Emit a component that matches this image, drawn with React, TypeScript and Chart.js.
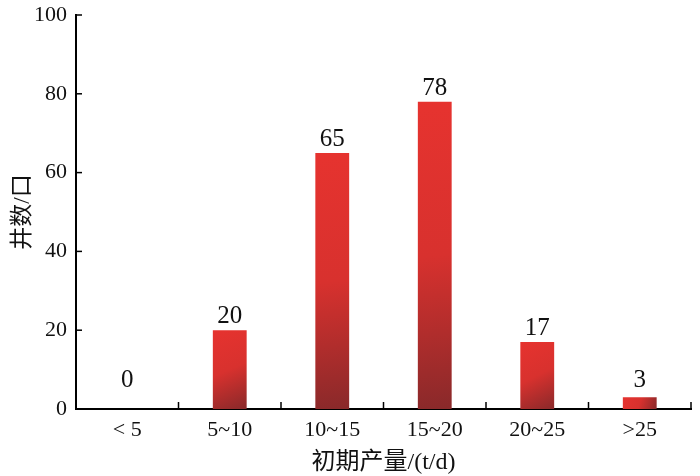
import React, { useEffect, useRef } from "react";
import { Chart, registerables } from "chart.js";

Chart.register(...registerables);

const categories = ["< 5", "5~10", "10~15", "15~20", "20~25", ">25"];
const wellCounts = [0, 20, 65, 78, 17, 3];
const yTicks = [0, 20, 40, 60, 80, 100];
const xTitle = "初期产量/(t/d)";
const yTitle = "井数/口";

const FONT = '"Liberation Serif", "Times New Roman", "Noto Sans CJK SC", serif';

export default function App() {
  const ref = useRef<HTMLCanvasElement | null>(null);

  useEffect(() => {
    document.body.style.margin = "0";
    const canvas = ref.current;
    if (!canvas) return;

    const gradientFor = (ctx: any) => {
      const chart = ctx.chart;
      const xs = chart.scales?.x;
      const ys = chart.scales?.y;
      if (!xs || !ys || ctx.dataIndex === undefined) return "#d8312d";
      const i = ctx.dataIndex;
      const v = wellCounts[i];
      const cx = xs.getPixelForValue(i);
      const half = ((xs.width / categories.length) * 0.33) / 2;
      const top = ys.getPixelForValue(v);
      const bottom = ys.getPixelForValue(0);
      const vals = [cx, half, top, bottom];
      if (!vals.every((n) => Number.isFinite(n)) || half <= 0) return "#d8312d";
      const g = chart.ctx.createLinearGradient(cx - half, top, cx + half, bottom);
      g.addColorStop(0, "#e6332f");
      g.addColorStop(0.5, "#d8312e");
      g.addColorStop(1, "#89292a");
      return g;
    };

    const tickPlugin = {
      id: "innerTicks",
      afterDraw(chart: any) {
        const c = chart.ctx;
        const xs = chart.scales.x;
        const ys = chart.scales.y;
        c.save();
        c.strokeStyle = "#000";
        c.lineWidth = 1.5;
        const ax = xs.left;
        yTicks.forEach((t) => {
          const py = ys.getPixelForValue(t);
          c.beginPath();
          c.moveTo(ax, py);
          c.lineTo(ax + 6, py);
          c.stroke();
        });
        const base = ys.getPixelForValue(0);
        const cw = xs.width / categories.length;
        categories.forEach((_, i) => {
          const px = xs.getPixelForValue(i) + cw / 2;
          c.beginPath();
          c.moveTo(px, base);
          c.lineTo(px, base - 7);
          c.stroke();
        });
        c.restore();
      },
    };

    const labelPlugin = {
      id: "valueLabels",
      afterDatasetsDraw(chart: any) {
        const c = chart.ctx;
        const meta = chart.getDatasetMeta(0);
        c.save();
        c.fillStyle = "#111";
        c.font = `25px ${FONT}`;
        c.textAlign = "center";
        c.textBaseline = "alphabetic";
        meta.data.forEach((el: any, i: number) => {
          const y = Math.min(el.y - 7, el.base - 22);
          c.fillText(String(wellCounts[i]), el.x, y);
        });
        c.restore();
      },
    };

    const chart = new Chart(canvas, {
      type: "bar",
      data: {
        labels: categories,
        datasets: [
          {
            data: wellCounts,
            backgroundColor: gradientFor,
            borderWidth: 0,
            barPercentage: 1,
            categoryPercentage: 0.33,
          },
        ],
      },
      options: {
        animation: false,
        responsive: false,
        devicePixelRatio: 1,
        layout: { padding: { left: 0, right: 9, top: 15, bottom: 0 } },
        plugins: {
          legend: { display: false },
          tooltip: { enabled: false },
        },
        scales: {
          x: {
            grid: { display: false, drawTicks: false },
            border: { display: true, color: "#000", width: 2 },
            ticks: {
              color: "#111",
              font: { family: FONT, size: 22 },
              padding: 8,
              maxRotation: 0,
              autoSkip: false,
            },
            title: {
              display: true,
              text: xTitle,
              color: "#111",
              font: { family: FONT, size: 24 },
              padding: { top: 0, bottom: -1 },
            },
            afterFit(scale: any) {
              scale.height = 67;
              scale.paddingLeft = 0;
              scale.paddingRight = 0;
            },
          },
          y: {
            min: 0,
            max: 100,
            grid: { display: false, drawTicks: false },
            border: { display: true, color: "#000", width: 2 },
            ticks: {
              stepSize: 20,
              color: "#111",
              font: { family: FONT, size: 22 },
              padding: 9,
            },
            title: {
              display: true,
              text: yTitle,
              color: "#111",
              font: { family: FONT, size: 23 },
              padding: { top: 9, bottom: 0 },
            },
            afterFit(scale: any) {
              scale.width = 76;
              scale.paddingTop = 0;
              scale.paddingBottom = 0;
            },
          },
        },
      },
      plugins: [tickPlugin, labelPlugin],
    });

    return () => {
      chart.destroy();
    };
  }, []);

  return (
    <div style={{ width: 700, height: 476, background: "#fff" }}>
      <canvas ref={ref} width={700} height={476} style={{ display: "block" }} />
    </div>
  );
}
